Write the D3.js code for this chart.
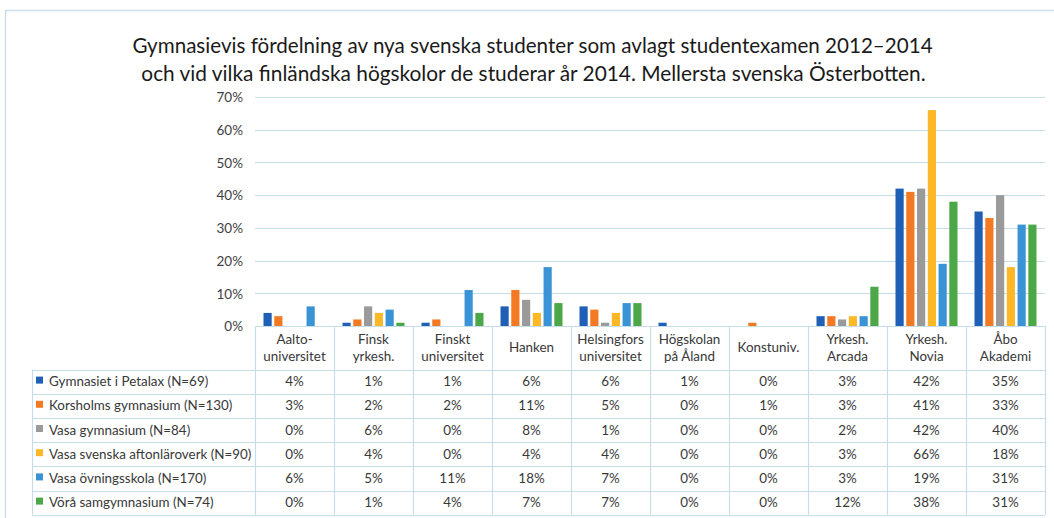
<!DOCTYPE html>
<html>
<head>
<meta charset="utf-8">
<script src="https://cdn.jsdelivr.net/npm/d3@7"></script>
<style>
  html, body { margin: 0; padding: 0; background: #fff; }
  svg { display: block; font-family: Lato, "Open Sans", sans-serif; }
</style>
</head>
<body>
<svg id="chart" width="1054" height="518"></svg>
<script>
// ---- data ----
const titleLines = [
  "Gymnasievis fördelning av nya svenska studenter som avlagt studentexamen 2012–2014",
  "och vid vilka finländska högskolor de studerar år 2014. Mellersta svenska Österbotten."
];
const categories = [
  ["Aalto-", "universitet"],
  ["Finsk", "yrkesh."],
  ["Finskt", "universitet"],
  ["Hanken"],
  ["Helsingfors", "universitet"],
  ["Högskolan", "på Åland"],
  ["Konstuniv."],
  ["Yrkesh.", "Arcada"],
  ["Yrkesh.", "Novia"],
  ["Åbo", "Akademi"]
];
const seriesNames = [
  "Gymnasiet i Petalax (N=69)",
  "Korsholms gymnasium (N=130)",
  "Vasa gymnasium (N=84)",
  "Vasa svenska aftonläroverk (N=90)",
  "Vasa övningsskola (N=170)",
  "Vörå samgymnasium (N=74)"
];
const petalax      = [4, 1, 1, 6, 6, 1, 0, 3, 42, 35];
const korsholm     = [3, 2, 2, 11, 5, 0, 1, 3, 41, 33];
const vasaGymn     = [0, 6, 0, 8, 1, 0, 0, 2, 42, 40];
const aftonlaroverk= [0, 4, 0, 4, 4, 0, 0, 3, 66, 18];
const ovningsskola = [6, 5, 11, 18, 7, 0, 0, 3, 19, 31];
const vora         = [0, 1, 4, 7, 7, 0, 0, 12, 38, 31];
const seriesValues = [petalax, korsholm, vasaGymn, aftonlaroverk, ovningsskola, vora];
const yTicks = [0, 10, 20, 30, 40, 50, 60, 70];
const colors = ["#1F5FB6", "#F37A22", "#9A9A9A", "#FDB827", "#3A93D5", "#4CA847"];

// ---- layout ----
const svg = d3.select("#chart");
const plotLeft = 255, plotRight = 1045;
const yTop = 97, yBase = 326;
const tableLeft = 32;
const headerBottom = 369.5;
const rowH = 24.2;
const gridColor = "#C6DDEC";
const textColor = "#383838";
const tableFont = 13.4;

// frame
svg.append("rect").attr("x", 5.5).attr("y", 10.5).attr("width", 1070).attr("height", 530)
  .attr("fill", "none").attr("stroke", "#C3DEEA").attr("stroke-width", 1.3);

// title (fit to reference width with horizontal scaling)
const titleG = svg.append("g");
const titleTargets = [[132, 933], [141, 926]];
titleLines.forEach((t, i) => {
  const cx = (titleTargets[i][0] + titleTargets[i][1]) / 2;
  const g = titleG.append("g").attr("transform", `translate(${cx},${53 + i * 28})`);
  const tx = g.append("text")
    .attr("x", 0).attr("y", 0)
    .attr("text-anchor", "middle")
    .attr("fill", "#1a1a1a")
    .attr("font-size", 22)
    .text(t);
  const w = tx.node().getComputedTextLength();
  const target = titleTargets[i][1] - titleTargets[i][0];
  g.attr("transform", `translate(${cx},${53 + i * 28}) scale(${target / w},1)`);
});

// scales
const y = d3.scaleLinear().domain([0, 70]).range([yBase, yTop]);
const x0 = d3.scaleBand().domain(d3.range(categories.length)).range([plotLeft, plotRight]).padding(0);
const x1 = d3.scaleBand().domain(d3.range(seriesNames.length))
  .range([8.5, x0.bandwidth() - 8.5]).paddingInner(0.24).paddingOuter(0);

// gridlines
svg.append("g").selectAll("line").data(yTicks).join("line")
  .attr("x1", plotLeft).attr("x2", plotRight)
  .attr("y1", d => Math.round(y(d)) + 0.5).attr("y2", d => Math.round(y(d)) + 0.5)
  .attr("stroke", gridColor).attr("stroke-width", 1.2);

// y axis labels
const yAxis = d3.axisLeft(y).tickValues(yTicks).tickFormat(d => d + "%").tickSize(0).tickPadding(0);
const yAxisG = svg.append("g").attr("transform", `translate(243,0)`).call(yAxis);
yAxisG.select(".domain").remove();
yAxisG.selectAll("text").attr("font-size", 13.5).attr("fill", "#404040")
  .attr("font-family", "Lato, sans-serif").attr("dy", "0.35em");

// bars
const groups = svg.append("g").selectAll("g").data(categories).join("g")
  .attr("transform", (d, i) => `translate(${x0(i)},0)`);
groups.selectAll("rect").data((d, ci) => seriesValues.map((s, si) => ({ si, v: s[ci] })))
  .join("rect")
  .attr("x", d => x1(d.si))
  .attr("width", x1.bandwidth())
  .attr("y", d => y(d.v))
  .attr("height", d => yBase - y(d.v))
  .attr("fill", d => colors[d.si]);

// table
const tbl = svg.append("g");
const lastRowBottom = headerBottom + rowH * seriesNames.length;
tbl.append("line").attr("x1", plotLeft).attr("x2", plotRight).attr("y1", yBase + 0.5).attr("y2", yBase + 0.5)
  .attr("stroke", gridColor).attr("stroke-width", 1.2);
const vlines = d3.range(categories.length + 1).map(i => i < categories.length ? x0(i) : plotRight);
tbl.selectAll("line.v").data(vlines).join("line").attr("class", "v")
  .attr("x1", d => Math.round(d) + 0.5).attr("x2", d => Math.round(d) + 0.5)
  .attr("y1", yBase).attr("y2", lastRowBottom)
  .attr("stroke", gridColor).attr("stroke-width", 1.2);
tbl.append("line").attr("x1", tableLeft + 0.5).attr("x2", tableLeft + 0.5)
  .attr("y1", headerBottom).attr("y2", lastRowBottom)
  .attr("stroke", gridColor).attr("stroke-width", 1.2);
tbl.selectAll("line.h").data(d3.range(seriesNames.length + 1)).join("line").attr("class", "h")
  .attr("x1", tableLeft).attr("x2", plotRight)
  .attr("y1", i => Math.round(headerBottom + i * rowH) + 0.5)
  .attr("y2", i => Math.round(headerBottom + i * rowH) + 0.5)
  .attr("stroke", gridColor).attr("stroke-width", 1.2);

// header labels
categories.forEach((lines, i) => {
  const cx = x0(i) + x0.bandwidth() / 2;
  const t = tbl.append("text").attr("text-anchor", "middle").attr("fill", textColor)
    .attr("font-size", tableFont);
  const startY = lines.length === 1 ? 352 : 344;
  lines.forEach((l, k) => {
    t.append("tspan").attr("x", cx).attr("y", startY + k * 16.5).text(l);
  });
});

// rows
seriesNames.forEach((name, si) => {
  const cy = headerBottom + si * rowH + rowH / 2;
  tbl.append("rect").attr("x", 36).attr("y", cy - 5).attr("width", 7).attr("height", 7)
    .attr("fill", colors[si]);
  tbl.append("text").attr("x", 49).attr("y", cy).attr("dy", "0.35em")
    .attr("font-size", tableFont).attr("fill", textColor).text(name);
  seriesValues[si].forEach((v, ci) => {
    tbl.append("text").attr("x", x0(ci) + x0.bandwidth() / 2).attr("y", cy).attr("dy", "0.35em")
      .attr("text-anchor", "middle").attr("font-size", tableFont).attr("fill", textColor)
      .text(v + "%");
  });
});
</script>
</body>
</html>
